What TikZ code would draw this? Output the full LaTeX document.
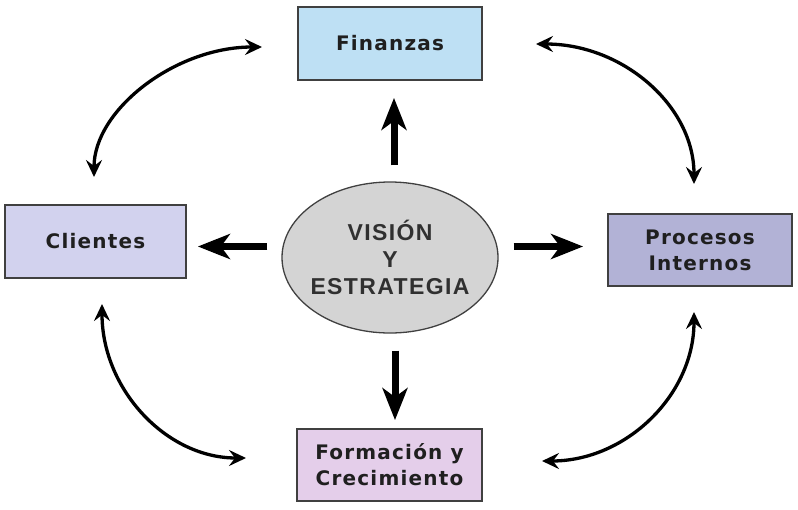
\documentclass[tikz,border=0pt]{standalone}
\usepackage{fontspec}
\setmainfont{DejaVu Sans}
\newfontfamily\boxfont[LetterSpace=6]{DejaVu Sans}
\newfontfamily\ellfont[LetterSpace=6]{Liberation Sans}
\usetikzlibrary{shapes.geometric,arrows.meta}
\definecolor{finfill}{HTML}{BEE0F4}
\definecolor{clifill}{HTML}{D2D2EE}
\definecolor{profill}{HTML}{B2B2D6}
\definecolor{forfill}{HTML}{E4CEEA}
\definecolor{ellfill}{HTML}{D4D4D4}
\definecolor{edge}{HTML}{404040}
\definecolor{elltext}{HTML}{303030}
\tikzset{
  card/.style={draw=edge, line width=1.8pt, align=center, inner sep=0pt,
    font=\boxfont\bfseries\fontsize{20}{26}\selectfont, text=black!88},
  vision/.style={ellipse, draw=edge, line width=1.3pt, fill=ellfill, inner sep=-8pt,
    minimum width=216pt, minimum height=151pt, align=center,
    font=\ellfont\bfseries\fontsize{23}{27}\selectfont, text=elltext},
  bigarrow/.style={line width=7pt, -{Stealth[length=32pt,width=25pt,inset=9pt]}},
  curvearrow/.style={line width=3.3pt, {Stealth[length=17pt,width=16pt,inset=6pt]}-{Stealth[length=17pt,width=16pt,inset=6pt]}}
}
\begin{document}
\begin{tikzpicture}[x=1pt,y=-1pt]
\useasboundingbox (0,0) rectangle (798,509);
% boxes
\node[card, fill=finfill, minimum width=184pt, minimum height=73pt] (fin) at (390,43.5) {Finanzas};
\node[card, fill=clifill, minimum width=181pt, minimum height=73pt] (cli) at (95.5,241.5) {Clientes};
\node[card, fill=profill, minimum width=184pt, minimum height=72pt] (pro) at (700,250) {Procesos\\Internos};
\node[card, fill=forfill, minimum width=185pt, minimum height=72pt] (for) at (389.5,465) {Formación y\\Crecimiento};
% center ellipse
\node[vision] (vis) at (390,257.5) {VISIÓN\\Y\\ESTRATEGIA};
% straight thick arrows
\draw[bigarrow, shorten <=16pt, shorten >=17pt] ([xshift=4pt]vis.north) -- ([xshift=4pt]fin.south);
\draw[bigarrow, shorten <=17pt, shorten >=8pt] ([xshift=5pt]vis.south) -- ([xshift=5.5pt]for.north);
\draw[bigarrow, shorten <=14pt, shorten >=11pt] ([yshift=11pt]vis.west) -- ([yshift=11pt]vis.west -| cli.east);
\draw[bigarrow, shorten <=15pt, shorten >=24pt] ([yshift=11pt]vis.east) -- ([yshift=11pt]vis.east -| pro.west);
% curved double arrows
\coordinate (tlA) at (262,47);
\coordinate (tlB) at (94,177);
\coordinate (trA) at (536,44);
\coordinate (trB) at (694,184);
\coordinate (blA) at (102,304);
\coordinate (blB) at (246,458);
\coordinate (brA) at (694,312);
\coordinate (brB) at (542,461);
\draw[curvearrow] (tlA) .. controls (175,47) and (94,110) .. (tlB);
\draw[curvearrow] (trA) .. controls (623,44) and (694,106) .. (trB);
\draw[curvearrow] (blA) .. controls (102,389) and (166,458) .. (blB);
\draw[curvearrow] (brA) .. controls (694,395) and (626,461) .. (brB);
\end{tikzpicture}
\end{document}
